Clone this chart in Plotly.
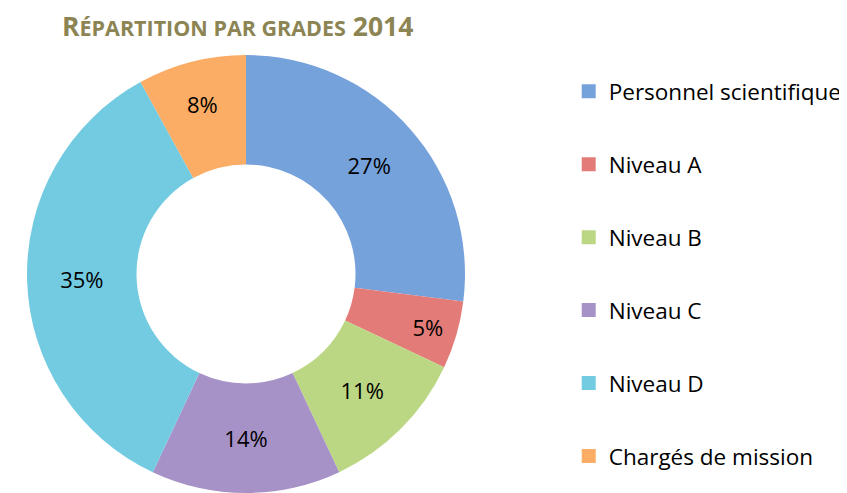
import plotly.graph_objects as go

categories = ["Personnel scientifique", "Niveau A", "Niveau B", "Niveau C", "Niveau D", "Chargés de mission"]
values = [27, 5, 11, 14, 35, 8]
colors = ["#76a2dc", "#e37c79", "#bcd783", "#a692c6", "#72cbe1", "#fbac65"]
title_text = ("R<span style='font-size:21.5px'>ÉPARTITION PAR GRADES</span> 2014")

fig = go.Figure()
fig.add_trace(go.Pie(
    labels=categories, values=values, hole=0.5, sort=False, direction="clockwise",
    rotation=0, marker=dict(colors=colors, line=dict(width=0)),
    textinfo="percent", textposition="inside", insidetextorientation="horizontal",
    textfont=dict(family="Open Sans, sans-serif", size=22, color="black"),
    showlegend=False, hoverinfo="label+percent",
    domain=dict(x=[19/847, 457/847], y=[5/493, 449/493]),
))
for i, (c, col) in enumerate(zip(categories, colors)):
    fig.add_trace(go.Scatter(
        x=[None], y=[None], mode="markers", name=c, legendgroup=f"g{i}",
        marker=dict(symbol="square", size=14, color=col),
    ))

fig.update_layout(
    width=847, height=493, margin=dict(l=0, r=0, t=0, b=0),
    paper_bgcolor="white", plot_bgcolor="white",
    xaxis=dict(visible=False), yaxis=dict(visible=False),
    legend=dict(x=0.662, y=0.874, xanchor="left", yanchor="top", tracegroupgap=40.7,
                font=dict(family="Open Sans, sans-serif", size=22.5, color="black"),
                itemwidth=30),
    title=dict(text=title_text, x=54/847, xanchor="left", y=0.98, yanchor="top",
               font=dict(family="Open Sans, sans-serif", size=26.5, color="#8c8453", weight="bold")),
)
fig.write_html("out.html")
